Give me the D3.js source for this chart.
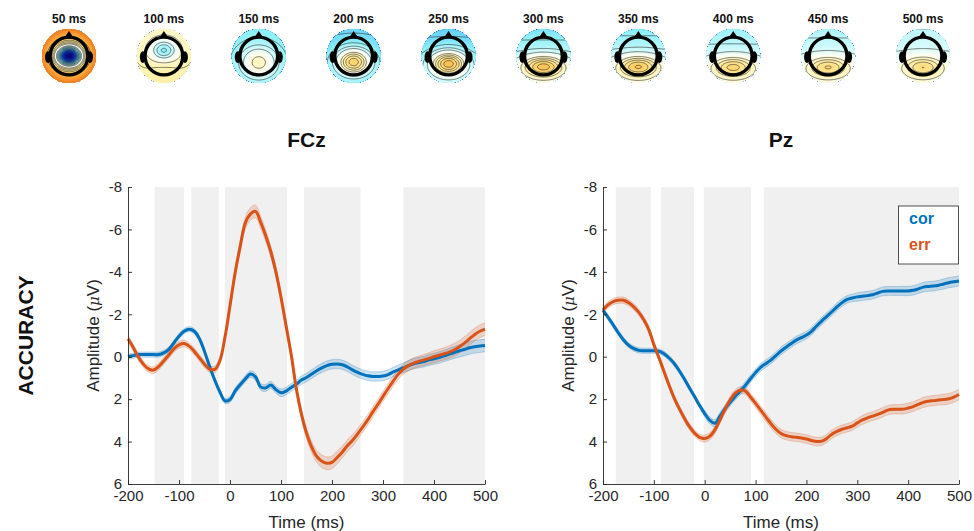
<!DOCTYPE html>
<html>
<head>
<meta charset="utf-8">
<script src="https://cdn.jsdelivr.net/npm/d3@7"></script>
<style>
  body { margin: 0; background: #fff; }
  svg { display: block; font-family: "Liberation Sans", Arial, Helvetica, sans-serif; }
</style>
</head>
<body>
<svg id="fig" width="974" height="531"></svg>
<script>
// ---------- ERP data (µV, negative up) ----------
const time = [-200,-190,-180,-170,-160,-150,-140,-130,-120,-110,-100,-90,-80,-70,-60,-50,-40,-30,-20,-10,
  0,10,20,30,40,50,60,70,80,90,100,110,120,130,140,150,160,170,180,190,200,210,220,230,240,250,260,270,280,290,
  300,310,320,330,340,350,360,370,380,390,400,410,420,430,440,450,460,470,480,490,500];

const fczCor = [0.0,-0.05,-0.1,-0.1,-0.1,-0.1,-0.1,-0.18,-0.35,-0.65,-0.97,-1.2,-1.3,-1.2,-0.85,-0.25,0.45,1.1,1.65,2.08,
  2.02,1.62,1.32,1.05,0.82,0.95,1.42,1.47,1.33,1.55,1.70,1.62,1.45,1.3,1.1,0.98,0.82,0.66,0.53,0.42,0.36,0.34,0.38,0.48,0.62,0.74,0.83,0.9,0.93,0.93,
  0.91,0.84,0.72,0.62,0.52,0.42,0.33,0.28,0.23,0.15,0.1,0.04,-0.04,-0.12,-0.2,-0.28,-0.34,-0.42,-0.47,-0.5,-0.53];
const fczErr = [-0.85,-0.45,0.0,0.35,0.57,0.63,0.47,0.2,-0.08,-0.37,-0.56,-0.62,-0.5,-0.25,0.05,0.35,0.58,0.6,0.2,-0.9,
  -2.4,-3.95,-5.2,-6.3,-6.72,-6.85,-6.35,-5.7,-4.95,-4.0,-2.8,-1.45,-0.1,1.5,2.7,3.6,4.25,4.7,4.93,5.02,4.98,4.75,4.5,4.2,3.95,3.65,3.32,2.98,2.6,2.25,
  1.87,1.5,1.15,0.82,0.58,0.42,0.3,0.22,0.15,0.08,0.0,-0.07,-0.14,-0.22,-0.33,-0.47,-0.65,-0.85,-1.05,-1.2,-1.3];
const pzCor = [-2.2,-1.85,-1.5,-1.13,-0.8,-0.55,-0.39,-0.3,-0.28,-0.28,-0.28,-0.26,-0.14,0.06,0.32,0.66,1.05,1.47,1.88,2.3,
  2.68,3.0,3.14,2.8,2.45,2.15,1.87,1.62,1.35,1.04,0.75,0.5,0.33,0.16,-0.05,-0.27,-0.45,-0.62,-0.78,-0.9,-1.02,-1.2,-1.45,-1.68,-1.9,-2.12,-2.35,-2.55,-2.7,-2.77,
  -2.82,-2.85,-2.88,-2.92,-3.0,-3.08,-3.1,-3.1,-3.1,-3.1,-3.1,-3.13,-3.2,-3.28,-3.31,-3.33,-3.37,-3.43,-3.49,-3.53,-3.57];
const pzErr = [-2.2,-2.45,-2.6,-2.66,-2.66,-2.55,-2.36,-2.1,-1.75,-1.28,-0.57,0.05,0.7,1.35,1.95,2.45,2.9,3.3,3.6,3.8,
  3.86,3.75,3.45,2.98,2.48,2.04,1.72,1.58,1.62,1.9,2.2,2.52,2.84,3.15,3.42,3.62,3.72,3.77,3.8,3.83,3.88,3.95,4.0,3.98,3.85,3.65,3.52,3.42,3.35,3.27,
  3.12,2.98,2.88,2.8,2.72,2.62,2.52,2.48,2.48,2.47,2.42,2.35,2.25,2.15,2.1,2.07,2.04,2.02,1.98,1.9,1.78];

// standard error of the mean at each sample
const seFczCor = [0.12,0.12,0.12,0.12,0.12,0.12,0.12,0.12,0.12,0.12,0.12,0.12,0.12,0.12,0.12,0.12,0.12,0.12,0.12,0.12,
  0.14,0.15,0.15,0.15,0.16,0.16,0.16,0.17,0.17,0.17,0.18,0.18,0.19,0.19,0.2,0.2,0.21,0.21,0.22,0.22,0.22,0.22,0.22,0.22,0.22,0.22,0.22,0.22,0.22,0.22,
  0.22,0.22,0.22,0.23,0.23,0.24,0.24,0.25,0.25,0.26,0.26,0.27,0.27,0.28,0.28,0.29,0.29,0.3,0.3,0.3,0.3];
const seFczErr = [0.16,0.16,0.16,0.16,0.16,0.16,0.16,0.16,0.16,0.16,0.16,0.16,0.16,0.16,0.16,0.16,0.16,0.16,0.16,0.16,
  0.2,0.22,0.25,0.28,0.3,0.3,0.3,0.28,0.26,0.25,0.24,0.24,0.24,0.24,0.25,0.26,0.27,0.28,0.3,0.3,0.3,0.3,0.28,0.28,0.27,0.26,0.25,0.25,0.24,0.24,
  0.24,0.24,0.24,0.24,0.24,0.24,0.25,0.25,0.26,0.27,0.28,0.28,0.29,0.3,0.3,0.3,0.3,0.3,0.3,0.3,0.3];
const sePzCor = [0.12,0.12,0.12,0.12,0.12,0.12,0.12,0.12,0.12,0.12,0.12,0.12,0.12,0.12,0.12,0.12,0.12,0.12,0.12,0.12,
  0.15,0.16,0.17,0.17,0.17,0.17,0.17,0.17,0.17,0.17,0.18,0.18,0.18,0.18,0.18,0.18,0.18,0.18,0.18,0.18,0.18,0.18,0.18,0.18,0.18,0.18,0.18,0.18,0.18,0.18,
  0.2,0.2,0.2,0.2,0.2,0.21,0.21,0.21,0.21,0.22,0.22,0.22,0.22,0.23,0.23,0.23,0.23,0.24,0.24,0.24,0.24];
const sePzErr = [0.15,0.15,0.15,0.15,0.15,0.15,0.15,0.15,0.15,0.15,0.15,0.15,0.15,0.15,0.15,0.15,0.15,0.15,0.15,0.15,
  0.17,0.17,0.17,0.17,0.17,0.17,0.17,0.17,0.17,0.17,0.2,0.2,0.2,0.2,0.2,0.2,0.2,0.2,0.2,0.2,0.2,0.2,0.2,0.2,0.2,0.2,0.2,0.2,0.2,0.2,
  0.21,0.21,0.21,0.21,0.22,0.22,0.22,0.22,0.22,0.23,0.23,0.23,0.23,0.24,0.24,0.24,0.24,0.25,0.25,0.25,0.25];

// time windows with a significant cor/err difference (ms)
const fczSig = [[-148,-90],[-76,-22],[-10,112],[145,256],[340,500]];
const pzSig  = [[-175,-106],[-86,-21],[-2,91],[116,500]];

const condNames  = ["cor", "err"];
const condColors = ["#0072BD", "#D95319"];
const yTicks = [-8,-6,-4,-2,0,2,4,6];
const xTicks = [-200,-100,0,100,200,300,400,500];

// ---------- scalp-map parameters ----------
const topoTimes   = [50,100,150,200,250,300,350,400,450,500];
const topoOffset  = [0.35,0.13,-0.3,-0.34,-0.3,-0.17,-0.15,-0.12,-0.1,-0.08];
const topoTilt    = [0,0.03,0,0.03,0.09,0.17,0.16,0.14,0.12,0.1];
const topoRadial  = [0.42,0.04,0,0,0,0,0,0,0,0];
const topoCentre  = [-1.35,-0.42,0,0,0,0,0,0,0,0];
const topoCentreY = [0,-0.2,0,0,0,0,0,0,0,0];
const topoPost    = [0,0.06,0.45,0.75,0.78,0.6,0.55,0.46,0.42,0.4];
const topoPostY   = [0.3,0.4,0.24,0.22,0.28,0.38,0.38,0.4,0.4,0.4];
const topoPostW   = [0.4,0.4,0.46,0.44,0.46,0.55,0.55,0.55,0.55,0.52];
const topoPostH   = [0.3,0.3,0.4,0.34,0.32,0.28,0.28,0.27,0.27,0.27];

const svg = d3.select("#fig");
const ink = "#262626";

// ---------- scalp maps ----------
const topoColor = d3.scaleLinear()
  .domain([-1.0,-0.8,-0.6,-0.45,-0.3,-0.15,0,0.15,0.3,0.45,0.6,0.8,1.0])
  .range(["#00008c","#0020d8","#1a70ff","#50c0ff","#90f0f8","#cdfafc","#fdfef4","#fff4b8","#ffe48c","#fcca5c","#f8a438","#f07020","#e03010"])
  .clamp(true);

const mapX = d3.scalePoint().domain(topoTimes).range([69, 923]);
const mapY = 56, R = 27, N = 64, EXT = 1.1;

function field(k, u, v) {
  const r2 = u*u + v*v;
  const gc = Math.exp(-(u*u/(2*0.34*0.34) + (v-topoCentreY[k])**2/(2*0.27*0.27)));
  const gp = Math.exp(-(u*u/(2*topoPostW[k]**2) + (v-topoPostY[k])**2/(2*topoPostH[k]**2)));
  return topoOffset[k] + topoTilt[k]*v + topoRadial[k]*r2 + topoCentre[k]*gc + topoPost[k]*gp;
}

const defs = svg.append("defs");
const fillLevels = d3.range(-80, 81).map(i => i * 0.02);
const lineLevels = d3.range(-11, 7).filter(i => i !== 0).map(i => i * 0.09);

topoTimes.forEach((t, k) => {
  const cx = mapX(t);
  const values = new Array(N * N);
  for (let j = 0; j < N; j++) for (let i = 0; i < N; i++) {
    const u = -EXT + 2*EXT*(i + 0.5)/N, v = -EXT + 2*EXT*(j + 0.5)/N;
    values[j*N + i] = field(k, u, v);
  }
  const proj = d3.geoIdentity().scale(2*EXT*R/N).translate([cx - EXT*R, mapY - EXT*R]);
  const path = d3.geoPath(proj);
  const clipId = "clip" + k;
  defs.append("clipPath").attr("id", clipId)
    .append("circle").attr("cx", cx).attr("cy", mapY).attr("r", R);

  const g = svg.append("g").attr("clip-path", `url(#${clipId})`);
  g.append("circle").attr("cx", cx).attr("cy", mapY).attr("r", R)
    .attr("fill", topoColor(d3.min(values)));
  g.selectAll("path.band")
    .data(d3.contours().size([N, N]).thresholds(fillLevels)(values))
    .join("path").attr("class", "band")
    .attr("d", path).attr("fill", d => topoColor(d.value));
  g.selectAll("path.iso")
    .data(d3.contours().size([N, N]).thresholds(lineLevels)(values))
    .join("path").attr("class", "iso")
    .attr("d", path).attr("fill", "none").attr("stroke", "#2a2a2a").attr("stroke-width", 0.6);

  // head outline, nose and ears
  const h = svg.append("g");
  h.append("path")
    .attr("d", `M${cx - 0.17*R},${mapY - 0.68*R} L${cx},${mapY - 0.93*R} L${cx + 0.17*R},${mapY - 0.68*R} Z`)
    .attr("fill", "#000");
  [-1, 1].forEach(s => {
    h.append("ellipse").attr("cx", cx + s*0.78*R).attr("cy", mapY + 0.04*R)
      .attr("rx", 0.11*R).attr("ry", 0.22*R).attr("fill", "#000");
  });
  h.append("circle").attr("cx", cx).attr("cy", mapY).attr("r", 0.7*R)
    .attr("fill", "none").attr("stroke", "#000").attr("stroke-width", 3.4);

  svg.append("text").attr("x", cx).attr("y", 23).attr("text-anchor", "middle")
    .attr("font-size", 12).attr("font-weight", "bold").attr("fill", "#111")
    .text(`${t} ms`);
});

// ---------- ERP panels ----------
const y = d3.scaleLinear().domain([-8, 6]).range([187, 484]);
const plain = d => `${d}`;

function panel(x0, x1, title, series, sig, withLegend) {
  const x = d3.scaleLinear().domain([-200, 500]).range([x0, x1]);
  const g = svg.append("g");

  g.selectAll("rect.sig").data(sig).join("rect").attr("class", "sig")
    .attr("x", d => x(d[0])).attr("width", d => x(d[1]) - x(d[0]))
    .attr("y", y(-8)).attr("height", y(6) - y(-8)).attr("fill", "#f0f0f0");

  series.forEach((s, si) => {
    const pts = time.map((tm, i) => ({ t: tm, v: s.values[i], se: s.se[i] }));
    const area = d3.area().x(d => x(d.t)).y0(d => y(d.v - d.se)).y1(d => y(d.v + d.se))
      .curve(d3.curveCatmullRom);
    g.append("path").attr("d", area(pts)).attr("fill", condColors[si]).attr("fill-opacity", 0.2);
    [-1, 1].forEach(sgn => {
      const edge = d3.line().x(d => x(d.t)).y(d => y(d.v + sgn*d.se)).curve(d3.curveCatmullRom);
      g.append("path").attr("d", edge(pts)).attr("fill", "none")
        .attr("stroke", condColors[si]).attr("stroke-opacity", 0.35).attr("stroke-width", 0.7);
    });
  });
  series.forEach((s, si) => {
    const pts = time.map((tm, i) => ({ t: tm, v: s.values[i] }));
    const line = d3.line().x(d => x(d.t)).y(d => y(d.v)).curve(d3.curveCatmullRom);
    g.append("path").attr("d", line(pts)).attr("fill", "none")
      .attr("stroke", condColors[si]).attr("stroke-width", 3).attr("stroke-linejoin", "round");
  });

  const ax = g.append("g").attr("transform", `translate(0,${y(6)})`)
    .call(d3.axisBottom(x).tickValues(xTicks).tickFormat(plain).tickSize(-4).tickSizeOuter(0).tickPadding(6));
  const ay = g.append("g").attr("transform", `translate(${x0},0)`)
    .call(d3.axisLeft(y).tickValues(yTicks).tickFormat(plain).tickSize(-4).tickSizeOuter(0).tickPadding(6));
  [ax, ay].forEach(a => {
    a.attr("font-family", null).attr("font-size", null);
    a.select(".domain").attr("stroke", ink).attr("stroke-width", 0.9);
    a.selectAll(".tick line").attr("stroke", ink).attr("stroke-width", 0.9);
    a.selectAll(".tick text").attr("fill", ink).attr("font-size", 15);
  });

  const cxm = (x0 + x1) / 2;
  g.append("text").attr("x", cxm).attr("y", 147).attr("text-anchor", "middle")
    .attr("font-size", 21).attr("font-weight", "bold").attr("fill", "#111").text(title);
  g.append("text").attr("x", cxm).attr("y", 528).attr("text-anchor", "middle")
    .attr("font-size", 17).attr("fill", ink).text("Time (ms)");
  const yl = g.append("text")
    .attr("transform", `translate(${x0 - 29},${(y(-8) + y(6)) / 2}) rotate(-90)`)
    .attr("text-anchor", "middle").attr("font-size", 17).attr("fill", ink);
  yl.append("tspan").text("Amplitude (");
  yl.append("tspan").attr("font-style", "italic").attr("font-family", "DejaVu Serif, serif").attr("font-size", 15).text("\u03bc");
  yl.append("tspan").text("V)");

  if (withLegend) {
    const lg = g.append("g");
    lg.append("rect").attr("x", x1 - 60.5).attr("y", 206).attr("width", 60).attr("height", 58)
      .attr("fill", "#fff").attr("stroke", ink).attr("stroke-width", 0.8);
    condNames.forEach((n, i) => {
      lg.append("text").attr("x", x1 - 50).attr("y", 224 + i * 26)
        .attr("font-size", 16).attr("font-weight", "bold").attr("fill", condColors[i]).text(n);
    });
  }
}

panel(128, 485, "FCz",
  [{ values: fczCor, se: seFczCor }, { values: fczErr, se: seFczErr }], fczSig, false);
panel(603, 959, "Pz",
  [{ values: pzCor, se: sePzCor }, { values: pzErr, se: sePzErr }], pzSig, true);

// row label
svg.append("text")
  .attr("transform", `translate(32.5,335.5) rotate(-90)`)
  .attr("text-anchor", "middle").attr("font-size", 21).attr("font-weight", "bold")
  .attr("fill", "#111").text("ACCURACY");
</script>
</body>
</html>
